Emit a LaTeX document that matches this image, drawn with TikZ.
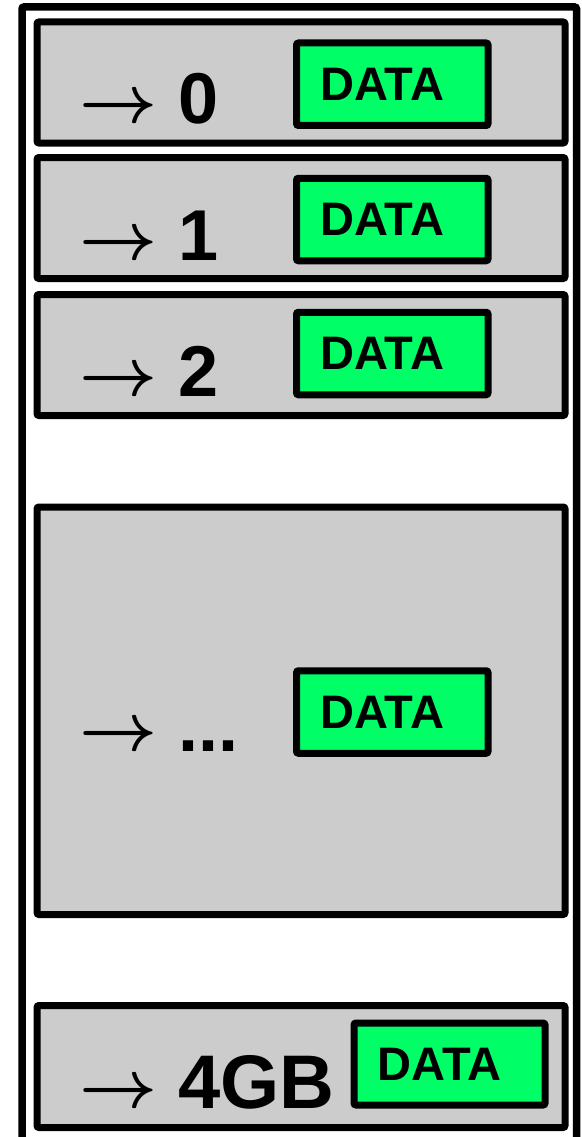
\documentclass[tikz,border=0pt]{standalone}
\usepackage{fontspec}
\usepackage{graphicx}
\setmainfont{Liberation Sans}
% bold math arrow used in front of each address
\newcommand{\addrarrow}{\raisebox{1pt}{\resizebox{78pt}{!}{\boldmath$\rightarrow$}}\kern21pt}
\begin{document}
\begin{tikzpicture}[x=1pt,y=-1pt,
  cell/.style={draw=black, line width=7pt, fill=cellgray, rounded corners=2pt,
    rectangle, minimum width=528pt, outer sep=0pt, inner sep=0pt},
  datablk/.style={draw=black, line width=7pt, fill=datagreen, rounded corners=2pt,
    rectangle, minimum width=191.5pt, minimum height=82.5pt, outer sep=0pt, inner sep=0pt,
    font=\bfseries\fontsize{47}{50}\selectfont, text depth=0pt},
  addr/.style={anchor=base west, inner sep=0pt, outer sep=0pt,
    font=\bfseries\fontsize{72}{80}\selectfont},
]
\definecolor{cellgray}{HTML}{CCCCCC}
\definecolor{datagreen}{HTML}{00FF66}
\useasboundingbox (0,0) rectangle (581,1137);
\clip (0,0) rectangle (581,1137);

% outer memory frame, running past the lower edge
\draw[line width=7.5pt, rounded corners=2pt] (22,7) rectangle (576.5,1160);

% address cells
\node[cell, minimum height=121pt] (c0) at (301,82.5) {};
\node[cell, minimum height=121pt] (c1) at (301,218) {};
\node[cell, minimum height=121pt] (c2) at (301,355) {};
\node[cell, minimum height=407.5pt] (cd) at (301,710.75) {};
\node[cell, minimum height=122pt] (c4) at (301,1066.5) {};

% data blocks
\node[datablk] (d0) at (392.25,84.25) {DATA\kern20pt};
\node[datablk] (d1) at (392.25,219.5) {DATA\kern20pt};
\node[datablk] (d2) at (392.25,353.5) {DATA\kern20pt};
\node[datablk] (dd) at (392.25,712) {DATA\kern20pt};
\node[datablk, minimum width=191pt, minimum height=82pt] (d4) at (449.5,1064) {DATA\kern20pt};

% address labels
\node[addr] (l0) at ([shift={(42,-19.5)}]c0.south west) {\addrarrow 0};
\node[addr] (l1) at ([shift={(42,-18.5)}]c1.south west) {\addrarrow 1};
\node[addr] (l2) at ([shift={(42,-19.5)}]c2.south west) {\addrarrow 2};
\node[addr] (ld) at ([shift={(42,40.25)}]cd.west) {\addrarrow ...};
\node[addr, font=\bfseries\fontsize{76}{84}\selectfont] (l4) at ([shift={(42,-19.5)}]c4.south west) {\addrarrow 4GB};
\end{tikzpicture}
\end{document}
